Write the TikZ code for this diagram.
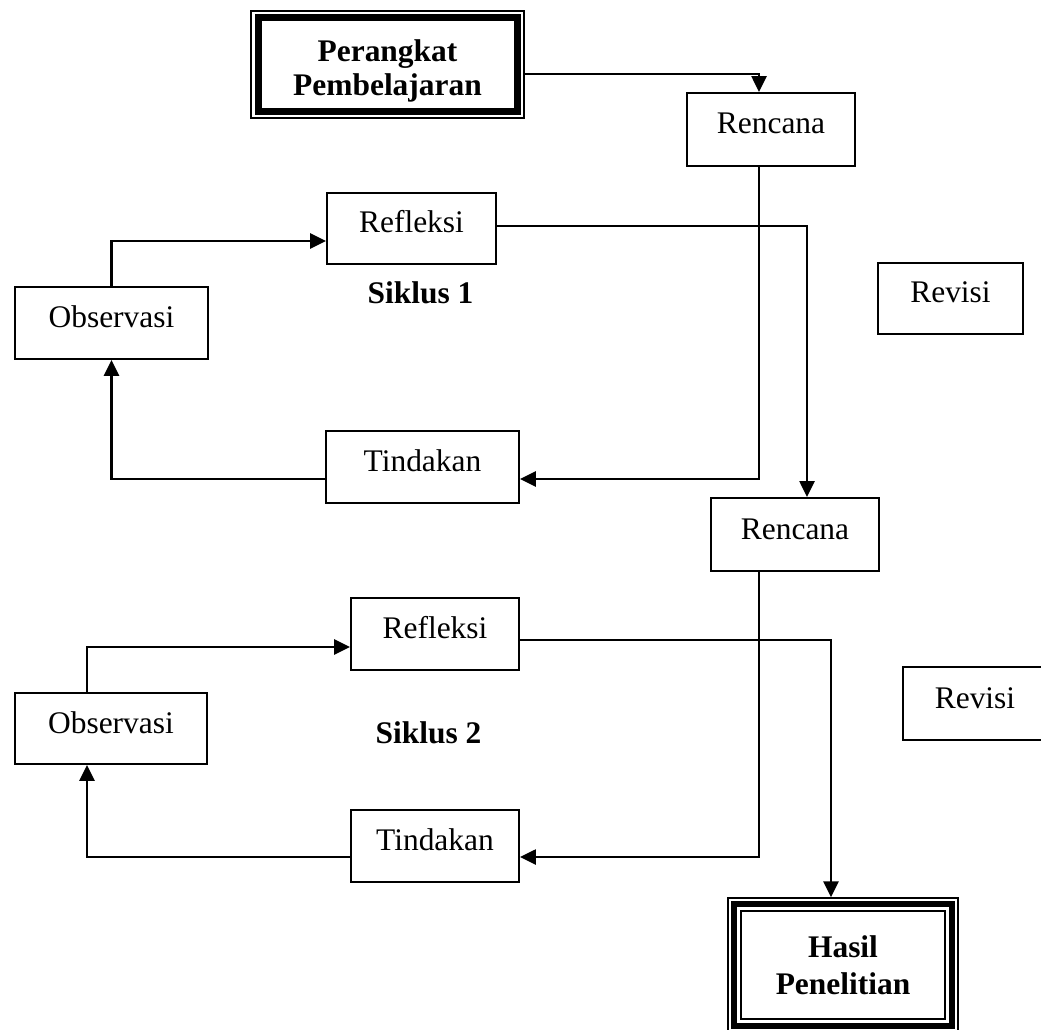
\documentclass[tikz,border=0pt]{standalone}
\usepackage{fontspec}
\setmainfont{Liberation Serif}
\usetikzlibrary{arrows.meta,calc}
\begin{document}
\begin{tikzpicture}[x=0.02cm,y=-0.02cm,
  txt/.style={font=\fontsize{17.9}{21}\selectfont},
  btxt/.style={font=\fontsize{17.9}{19}\selectfont\bfseries},
  box/.style 2 args={draw, line width=1.2pt, inner sep=0pt,
    minimum width=#1*0.02cm, minimum height=#2*0.02cm,
    text height=0.42cm, text depth=0.24cm, txt},
  conn/.style={line width=1.4pt, -{Triangle[length=9pt,width=8.5pt]}},
  thinframe/.style={line width=0.9pt},
]
\useasboundingbox (0,0) rectangle (1041,1030);
\clip (0,0) rectangle (1041,1030);

% top and bottom framed boxes
\node[draw, thinframe, minimum width=5.46cm, minimum height=2.14cm, inner sep=0pt] (P) at (387.5,64.5) {};
\node[btxt, align=center, inner sep=0pt] (Ptxt) at (387.5,71) {Perangkat\\Pembelajaran};
\draw[line width=4pt] ($(P.north west)+(8,7.5)$) rectangle ($(P.south east)+(-7,-7.5)$);

\node[draw, thinframe, minimum width=4.6cm, minimum height=2.68cm, inner sep=0pt,
      font=\fontsize{17.9}{21}\selectfont\bfseries, align=center] (H) at (843,965) {Hasil\\Penelitian};
\draw[line width=3.2pt] ($(H.north west)+(6.5,6.5)$) rectangle ($(H.south east)+(-6.5,-6.5)$);
\draw[thinframe] ($(H.north west)+(13.5,13.5)$) rectangle ($(H.south east)+(-13.5,-13.5)$);

% cycle 1
\node[box={168}{73}] (R1) at (771,129.5) {Rencana};
\node[box={169}{71}] (Ref1) at (411.5,228.5) {Refleksi};
\node[box={193}{72}] (Obs1) at (111.5,323) {Observasi};
\node[box={193}{72}] (Tin1) at (422.5,467) {Tindakan};
\node[box={145}{71}] (Rev1) at (950.5,298.5) {Revisi};
\node[btxt, inner sep=0pt] (S1) at (420.5,292.5) {Siklus 1};

% cycle 2
\node[box={168}{73}] (R2) at (795,534.5) {Rencana};
\node[box={168}{72}] (Ref2) at (435,634) {Refleksi};
\node[box={192}{71}] (Obs2) at (111,728.5) {Observasi};
\node[box={168}{72}] (Tin2) at (435,846) {Tindakan};
\node[box={144}{73}] (Rev2) at (975,703.5) {Revisi};
\node[btxt, inner sep=0pt] (S2) at (428.5,733) {Siklus 2};

% routing points
\coordinate (k1) at (759,74);
\coordinate (k2) at (759,479);
\coordinate (k4) at (0,241);
\coordinate (k5) at (807,226);
\coordinate (k6) at (759,857);
\coordinate (k7) at (87,0);
\coordinate (k8) at (0,647);
\coordinate (k9) at (831,640);

% connectors
\draw[conn] (P.east |- k1) -| (R1.north -| k1);
\draw[conn] (R1.south -| k2) |- (Tin1.east |- k2);
\draw[conn] (Tin1.west |- k2) -| (Obs1.south);
\draw[conn] (Obs1.north) |- (Ref1.west |- k4);
\draw[conn] (Ref1.east |- k5) -| (R2.north -| k5);
\draw[conn] (R2.south -| k6) |- (Tin2.east |- k6);
\draw[conn] (Tin2.west |- k6) -| (Obs2.south -| k7);
\draw[conn] (Obs2.north -| k7) |- (Ref2.west |- k8);
\draw[conn] (Ref2.east |- k9) -| (H.north -| k9);
\end{tikzpicture}
\end{document}
